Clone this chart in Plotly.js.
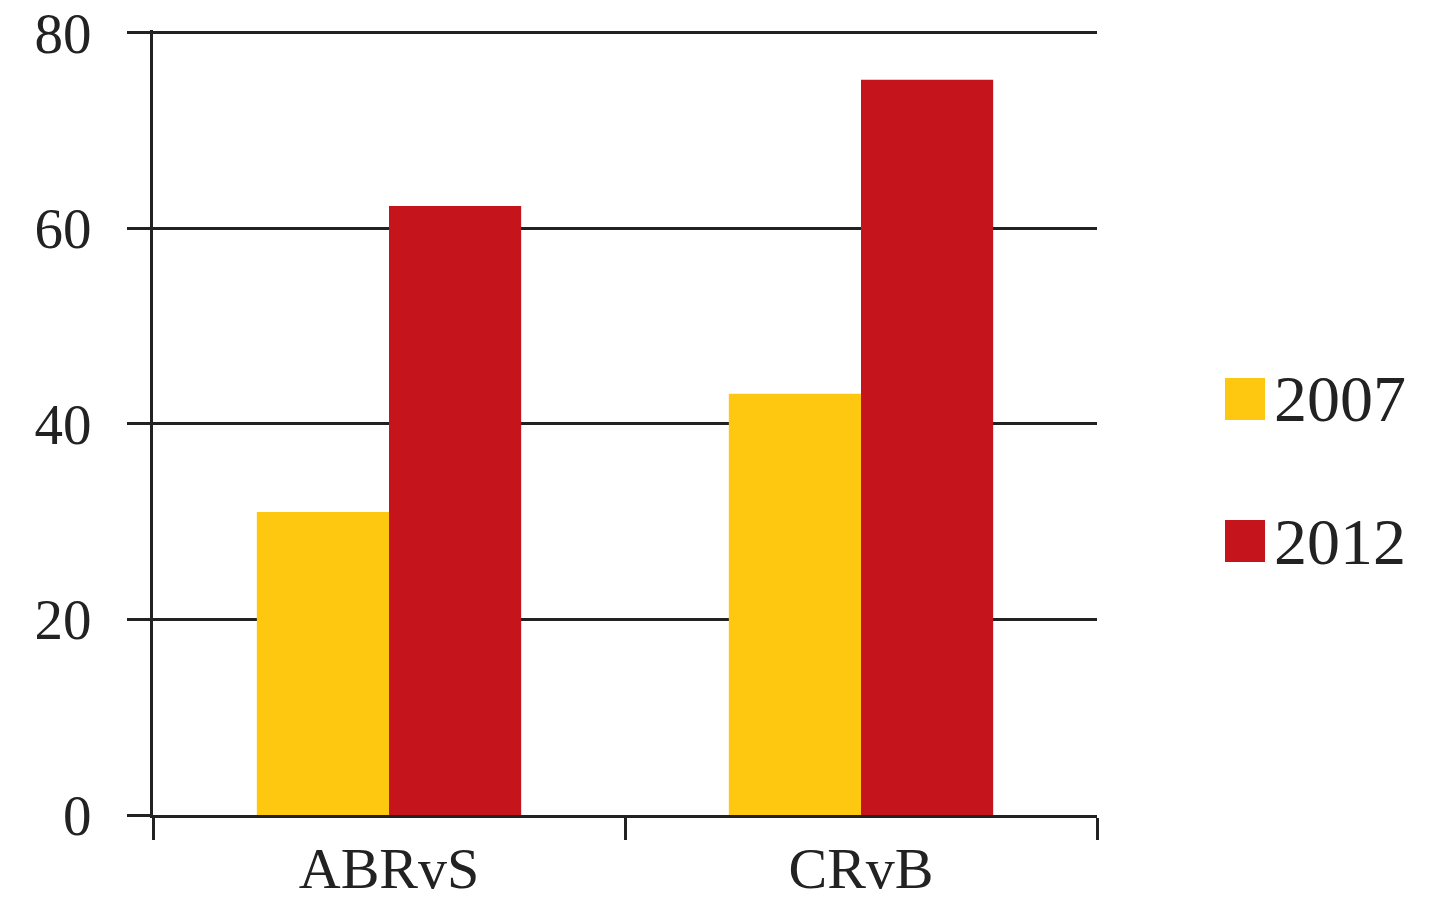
<!DOCTYPE html>
<html>
<head>
<meta charset="utf-8">
<script src="https://cdn.plot.ly/plotly-3.0.1.min.js"></script>
<style>
  html, body { margin: 0; padding: 0; background: #ffffff; }
  #chart { width: 1435px; height: 903px; }
</style>
</head>
<body>
<div id="chart"></div>
<script>
// ---- data ----
const categories = ["ABRvS", "CRvB"];
const seriesNames = ["2007", "2012"];
const values2007 = [31.0, 43.1];
const values2012 = [62.3, 75.2];
const seriesColors = ["#FDC80F", "#C5141C"];
const yTickValues = [0, 20, 40, 60, 80];

const FONT = "Liberation Serif, Times New Roman, serif";
const INK = "#222222";

const traces = [
  { type: "bar", name: seriesNames[0], x: categories, y: values2007,
    marker: { color: seriesColors[0], line: { width: 0 } }, showlegend: false, hoverinfo: "x+y+name" },
  { type: "bar", name: seriesNames[1], x: categories, y: values2012,
    marker: { color: seriesColors[1], line: { width: 0 } }, showlegend: false, hoverinfo: "x+y+name" }
];

// custom legend (large swatches) built from series names/colours
const legendX = 1.1356;   // paper x of swatch left edge
const legendY = [0.530, 0.349];
const shapes = [];
const annotations = [];
seriesNames.forEach((nm, i) => {
  shapes.push({
    type: "rect", xref: "paper", yref: "paper",
    x0: legendX, x1: legendX + 0.0424,
    y0: legendY[i] - 0.0268, y1: legendY[i] + 0.0268,
    fillcolor: seriesColors[i], line: { width: 0 }
  });
  annotations.push({
    xref: "paper", yref: "paper", x: legendX + 0.050, y: legendY[i],
    xanchor: "left", yanchor: "middle", showarrow: false,
    text: nm, font: { family: FONT, size: 66, color: INK }
  });
});

const layout = {
  width: 1435, height: 903,
  margin: { l: 153, r: 338, t: 30, b: 88, pad: 0 },
  paper_bgcolor: "#ffffff", plot_bgcolor: "#ffffff",
  barmode: "group", bargap: 0.44, bargroupgap: 0,
  showlegend: false,
  font: { family: FONT, color: INK, size: 60 },
  xaxis: {
    type: "category", range: [-0.5, 1.5],
    showline: true, linecolor: INK, linewidth: 3,
    ticks: "outside", tickson: "boundaries", ticklen: 22, tickwidth: 3, tickcolor: INK,
    showgrid: false, zeroline: false,
    tickfont: { family: FONT, size: 58, color: INK },
    ticklabeloverflow: "allow",
    fixedrange: true
  },
  yaxis: {
    range: [0, 80.3], tickvals: yTickValues, ticktext: yTickValues.map(String),
    showline: true, linecolor: INK, linewidth: 3,
    ticks: "outside", ticklen: 23, tickwidth: 3, tickcolor: INK,
    showgrid: true, gridcolor: INK, gridwidth: 3,
    zeroline: false, ticklabelstandoff: 24,
    tickfont: { family: FONT, size: 57, color: INK },
    ticklabeloverflow: "allow",
    fixedrange: true
  },
  shapes: shapes,
  annotations: annotations
};

Plotly.newPlot("chart", traces, layout, { displayModeBar: false, staticPlot: true });
</script>
</body>
</html>
